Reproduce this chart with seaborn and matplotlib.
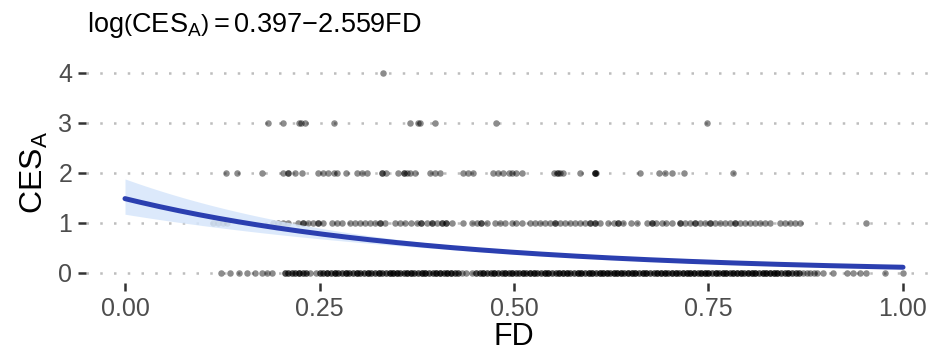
import numpy as np
import pandas as pd
import matplotlib
matplotlib.use('Agg')
import matplotlib.pyplot as plt
import seaborn as sns

# --- data ------------------------------------------------------------------
# FD values of the observations, one list per CES_A level
fd_ces4 = [0.332]
fd_ces3 = [0.184, 0.203, 0.224, 0.226, 0.231, 0.269, 0.366, 0.377, 0.379,
           0.398, 0.477, 0.748]
fd_ces2 = [0.130, 0.144, 0.176, 0.203, 0.210, 0.210, 0.219, 0.227, 0.248,
           0.255, 0.261, 0.268, 0.272, 0.284, 0.298, 0.304, 0.311, 0.330,
           0.330, 0.336, 0.351, 0.358, 0.358, 0.362, 0.366, 0.373, 0.392,
           0.398, 0.405, 0.435, 0.441, 0.447, 0.473, 0.480, 0.486, 0.493,
           0.497, 0.503, 0.510, 0.551, 0.555, 0.556, 0.559, 0.563, 0.585,
           0.604, 0.604, 0.604, 0.606, 0.662, 0.687, 0.694, 0.703, 0.719,
           0.782]
fd_ces1 = [0.113, 0.120, 0.126, 0.131, 0.190, 0.197, 0.203, 0.210,
           0.222, 0.229, 0.229, 0.235, 0.242, 0.248, 0.248, 0.255,
           0.266, 0.273, 0.279, 0.289, 0.296, 0.302, 0.308, 0.315, 0.321,
           0.328, 0.328, 0.334, 0.347, 0.353, 0.360, 0.368, 0.375, 0.381,
           0.381, 0.388, 0.394, 0.394, 0.401, 0.407, 0.407, 0.413, 0.413,
           0.420, 0.435, 0.446, 0.452, 0.458, 0.458, 0.465, 0.476, 0.482,
           0.488, 0.497, 0.503, 0.510, 0.521, 0.527, 0.533, 0.540, 0.546,
           0.553, 0.553, 0.559, 0.566, 0.572, 0.578, 0.585, 0.591, 0.598,
           0.598, 0.604, 0.604, 0.611, 0.621, 0.628, 0.634, 0.634, 0.640,
           0.651, 0.658, 0.671, 0.677, 0.677, 0.683, 0.690, 0.696, 0.703,
           0.713, 0.713, 0.720, 0.726, 0.733, 0.733, 0.739, 0.746, 0.752,
           0.752, 0.758, 0.765, 0.771, 0.778, 0.784, 0.784, 0.791, 0.797,
           0.803, 0.810, 0.816, 0.823, 0.829, 0.842, 0.848, 0.855, 0.861,
           0.868, 0.953]
# CES_A == 0 is very crowded: positions plus how many points sit there
fd_ces0 = [0.124, 0.135, 0.146, 0.157, 0.167, 0.176, 0.182, 0.189,
           0.206, 0.210, 0.215, 0.219, 0.224, 0.229, 0.233, 0.238, 0.246, 0.251,
           0.255, 0.260, 0.265, 0.270, 0.274, 0.279, 0.284, 0.288, 0.293, 0.298,
           0.302, 0.307, 0.312, 0.316, 0.321, 0.326, 0.330, 0.335, 0.340, 0.344,
           0.349, 0.354, 0.358, 0.363, 0.368, 0.372, 0.377, 0.382, 0.386, 0.391,
           0.396, 0.400, 0.405, 0.410, 0.414, 0.419, 0.424, 0.428, 0.433, 0.438,
           0.446, 0.451, 0.456, 0.460, 0.465, 0.470, 0.474, 0.479, 0.484, 0.488,
           0.493, 0.498, 0.502, 0.507, 0.512, 0.516, 0.521, 0.526, 0.530, 0.535,
           0.540, 0.544, 0.549, 0.554, 0.558, 0.563, 0.568, 0.572, 0.577, 0.582,
           0.586, 0.591, 0.596, 0.600, 0.605, 0.610, 0.614, 0.619, 0.624, 0.628,
           0.633, 0.638, 0.642, 0.647, 0.652, 0.656, 0.661, 0.666, 0.670, 0.675,
           0.680, 0.684, 0.689, 0.694, 0.698, 0.703, 0.708, 0.712, 0.717, 0.722,
           0.726, 0.731, 0.736, 0.740, 0.745, 0.750, 0.754, 0.759, 0.764, 0.768,
           0.773, 0.778, 0.782, 0.787, 0.792, 0.796, 0.801, 0.806, 0.810, 0.815,
           0.820, 0.824, 0.829, 0.834, 0.838, 0.843, 0.848, 0.852, 0.857, 0.862,
           0.866, 0.871, 0.876, 0.880, 0.885, 0.890, 0.897, 0.910, 0.928, 0.936,
           0.945, 0.953, 0.977, 1.000]
n_ces0 = [1, 1, 1, 1, 1, 1, 1, 1,
          2, 2, 2, 2, 3, 2, 2, 1, 1, 2,
          2, 3, 2, 3, 2, 2, 3, 2, 2, 3,
          2, 2, 3, 2, 2, 3, 2, 2, 3, 3,
          3, 2, 2, 3, 3, 2, 2, 3, 3, 2,
          2, 3, 3, 2, 3, 3, 2, 2, 1, 1,
          1, 2, 2, 3, 2, 2, 3, 2, 2, 3,
          2, 3, 2, 2, 3, 2, 3, 3, 2, 2,
          3, 3, 2, 2, 3, 3, 3, 2, 2, 3,
          3, 2, 3, 3, 2, 3, 3, 3, 2, 3,
          3, 3, 2, 3, 3, 3, 2, 3, 3, 2,
          2, 3, 3, 3, 2, 3, 3, 2, 3, 3,
          3, 3, 2, 3, 3, 3, 2, 3, 2, 3,
          3, 2, 3, 3, 3, 2, 3, 3, 3, 2,
          3, 3, 3, 3, 3, 2, 2, 3, 2, 2,
          2, 1, 1, 1, 1, 1, 1, 1, 1, 1,
          1, 1, 1, 1]

# poisson fit: log(CES_A) = b0 + b1*FD
b0 = 0.397
b1 = -2.559
se_b0 = 0.12
se_b1 = 0.226
cov_b01 = -0.0256

x_ticks = [0, 0.25, 0.5, 0.75, 1.0]
x_labels = ['0.00', '0.25', '0.50', '0.75', '1.00']
y_ticks = [0, 1, 2, 3, 4]

# --- build frame ------------------------------------------------------------
df = pd.DataFrame({
    'FD': np.concatenate([np.repeat(fd_ces0, n_ces0), fd_ces1, fd_ces2,
                          fd_ces3, fd_ces4]),
    'CES_A': np.concatenate([np.zeros(sum(n_ces0)), np.ones(len(fd_ces1)),
                             np.full(len(fd_ces2), 2), np.full(len(fd_ces3), 3),
                             np.full(len(fd_ces4), 4)]),
})

fd_grid = np.linspace(0, 1, 201)
eta = b0 + b1 * fd_grid
se_eta = np.sqrt(se_b0**2 + 2 * fd_grid * cov_b01 + (fd_grid * se_b1)**2)
fit = pd.DataFrame({'FD': fd_grid, 'mu': np.exp(eta),
                    'lo': np.exp(eta - 1.96 * se_eta),
                    'hi': np.exp(eta + 1.96 * se_eta)})

# --- plot -------------------------------------------------------------------
sns.set_theme(style='white')
plt.rcParams['font.family'] = ['Liberation Sans', 'DejaVu Sans']
plt.rcParams['mathtext.fontset'] = 'custom'
plt.rcParams['mathtext.rm'] = 'Liberation Sans'
plt.rcParams['mathtext.it'] = 'Liberation Sans:italic'
plt.rcParams['mathtext.bf'] = 'Liberation Sans:bold'

fig = plt.figure(figsize=(9.33, 3.58), dpi=100)
ax = fig.add_axes([86.1 / 933, 75 / 358, 855.8 / 933, 220 / 358])

for v in y_ticks:
    ax.axhline(v, color='#bdbdbd', lw=1.8, ls=(0, (1, 4.5)), zorder=0)

sns.scatterplot(data=df, x='FD', y='CES_A', color='black', alpha=0.45, s=22,
                linewidth=0, ax=ax, zorder=2)
ax.fill_between(fit['FD'], fit['lo'], fit['hi'], color='#d6e6fb', alpha=0.85,
                linewidth=0, zorder=3)
sns.lineplot(data=fit, x='FD', y='mu', color='#2b3fb0', lw=3.6, ax=ax,
             zorder=4)

ax.set_xlim(-0.05, 1.05)
ax.set_ylim(-0.2, 4.2)
ax.set_xticks(x_ticks)
ax.set_xticklabels(x_labels)
ax.set_yticks(y_ticks)
for s in ax.spines.values():
    s.set_visible(False)
ax.tick_params(axis='both', length=6, width=1.8, color='#333333',
               labelcolor='#4d4d4d', labelsize=18, pad=4,
               bottom=True, left=True)
ax.set_xlabel('FD', fontsize=22, color='black', labelpad=1)
ax.set_ylabel(r'$\mathrm{CES}_\mathrm{A}$', fontsize=23, color='black',
              labelpad=6)

fig.text(87 / 933, 1 - 25 / 358,
         r'$\mathrm{log}\left(\mathrm{CES}_\mathrm{A}\right) = 0.397{-}2.559\mathrm{FD}$',
         fontsize=19.5, ha='left', va='center', color='black')

fig.savefig('out.png', dpi=100)
